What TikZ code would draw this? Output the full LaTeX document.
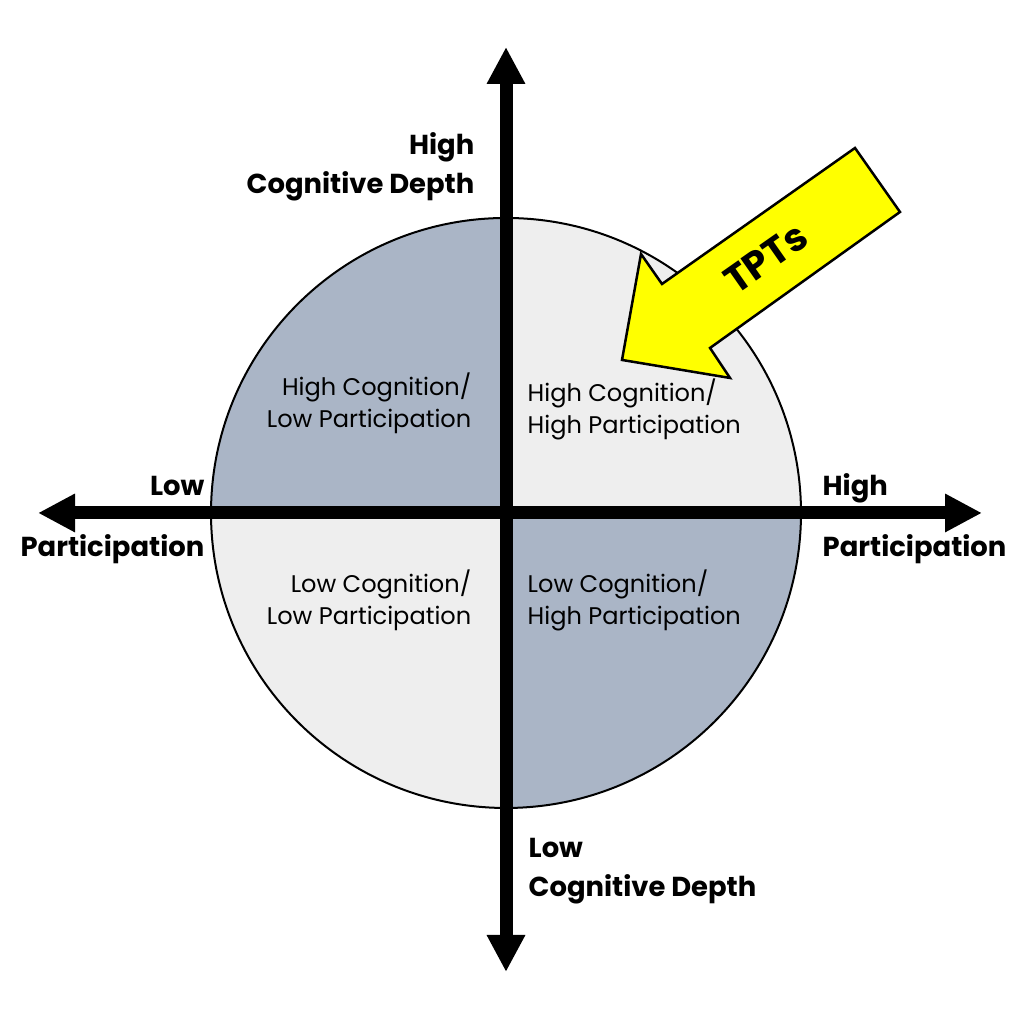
\documentclass[tikz,border=0pt]{standalone}
\usepackage{fontspec}
\setmainfont{Poppins}
\usetikzlibrary{arrows.meta}

\definecolor{quaddark}{RGB}{170,181,198}
\definecolor{quadlight}{RGB}{238,238,238}
\definecolor{tptyellow}{RGB}{255,255,0}

\tikzset{
    axis/.style={line width=0.13cm, -{Triangle[length=0.37cm,width=0.36cm]}},
    axislabel/.style={font=\fontsize{7.8}{11.1}\selectfont\bfseries, inner sep=0pt},
    quadlabel/.style={font=\fontsize{6.85}{9.2}\selectfont, inner sep=0pt},
}

\begin{document}
\begin{tikzpicture}
\useasboundingbox (0,0) rectangle (10.24,10.20);

\coordinate (O) at (5.06,5.07);
\coordinate (N) at (5.06,9.73);
\coordinate (S) at (5.06,0.48);
\coordinate (W) at (0.38,5.07);
\coordinate (E) at (9.82,5.07);

% quadrants
\foreach \a/\c in {0/quadlight,90/quaddark,180/quadlight,270/quaddark}
{
    \fill[\c] (O) -- ++(\a:2.95) arc[start angle=\a, delta angle=90, radius=2.95] -- cycle;
}
\draw[line width=0.02cm] (O) circle[radius=2.95];

\foreach \v in {N,S,W,E}
{
    \draw[axis] (O) -- (\v);
}

% the TPTs arrow
\draw[fill=tptyellow, line width=0.025cm, line join=miter]
    (6.22,6.60) -- (6.41,7.66) -- (6.62,7.36) -- (8.55,8.72)
    -- (9.00,8.08) -- (7.10,6.72) -- (7.30,6.42) -- cycle;
\node[font=\fontsize{11}{11}\selectfont\bfseries, rotate=35, inner sep=0pt] (tpts) at (7.66,7.62) {TPTs};

\node[axislabel, align=right, anchor=base east] (hicog) at (4.75,8.26) {High\\Cognitive Depth};
\node[axislabel, align=left, anchor=base west] (locog) at (5.28,1.23) {Low\\Cognitive Depth};
\node[axislabel, anchor=base east] (lowp) at (2.05,5.24) {Low};
\node[axislabel, anchor=base east] (partw) at (2.05,4.63) {Participation};
\node[axislabel, anchor=base west] (highp) at (8.22,5.24) {High};
\node[axislabel, anchor=base west] (parte) at (8.22,4.63) {Participation};

\node[quadlabel, align=right, anchor=base east] (hclp) at (4.72,5.92) {High Cognition/\\Low Participation};
\node[quadlabel, align=left, anchor=base west] (hchp) at (5.27,5.86) {High Cognition/\\High Participation};
\node[quadlabel, align=right, anchor=base east] (lclp) at (4.72,3.95) {Low Cognition/\\Low Participation};
\node[quadlabel, align=left, anchor=base west] (lchp) at (5.27,3.95) {Low Cognition/\\High Participation};

\end{tikzpicture}
\end{document}
